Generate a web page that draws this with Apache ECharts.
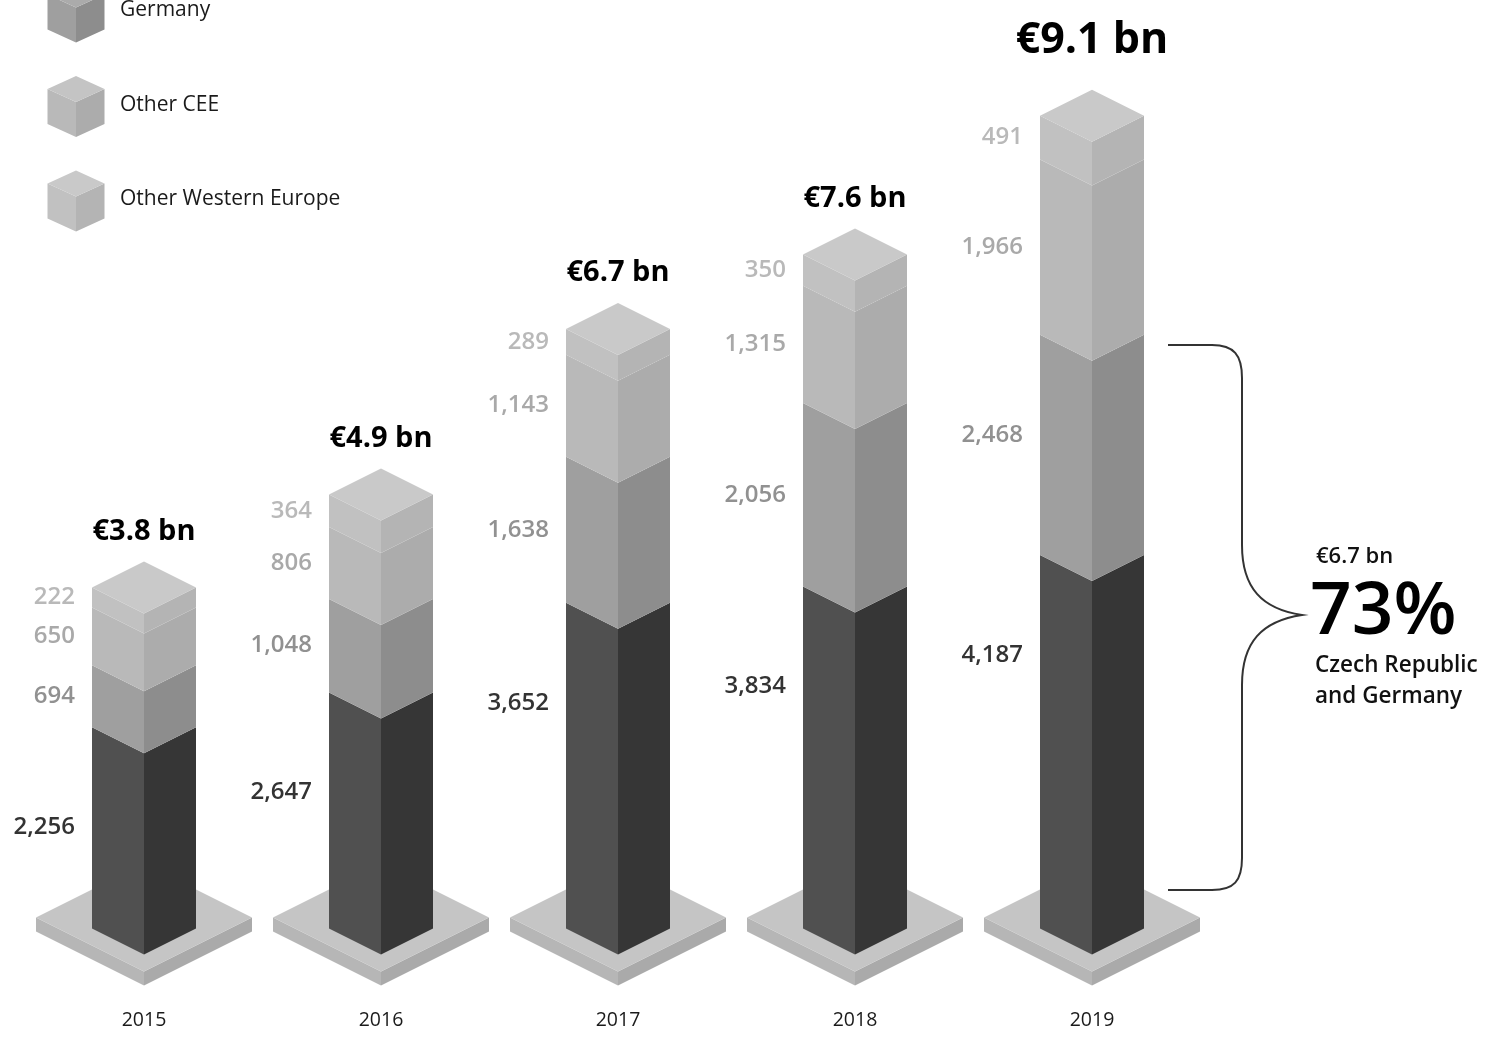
<!DOCTYPE html>
<html>
<head>
<meta charset="utf-8">
<title>Revenue by region</title>
<script src="https://cdn.jsdelivr.net/npm/echarts@6.0.0/dist/echarts.min.js"></script>
<style>
  html, body { margin: 0; padding: 0; background: #ffffff; }
  #chart { width: 1493px; height: 1046px; }
</style>
</head>
<body>
<div id="chart"></div>
<script>
// Revenue by region, EUR million
const years = ['2015', '2016', '2017', '2018', '2019'];
const regions = ['Czech Republic', 'Germany', 'Other CEE', 'Other Western Europe'];
const czechRepublic = [2256, 2647, 3652, 3834, 4187];
const germany = [694, 1048, 1638, 2056, 2468];
const otherCEE = [650, 806, 1143, 1315, 1966];
const otherWesternEurope = [222, 364, 289, 350, 491];

const seriesValues = [czechRepublic, germany, otherCEE, otherWesternEurope];

// Shading of each stack layer: left face, right face, top face, label colour
const LAYER_STYLE = [
  { left: '#505050', right: '#363636', top: '#5e5e5e', label: '#333333' },
  { left: '#9f9f9f', right: '#8d8d8d', top: '#ababab', label: '#919191' },
  { left: '#b9b9b9', right: '#acacac', top: '#c4c4c4', label: '#a9a9a9' },
  { left: '#c1c1c1', right: '#b4b4b4', top: '#c9c9c9', label: '#b9b9b9' }
];
const FONT = '"Open Sans", "Noto Sans", sans-serif';
const HALF = 52;   // half width of a column in the isometric view
const RISE = 26;   // vertical offset of the side corners

const totals = years.map((_, i) => seriesValues.reduce((s, arr) => s + arr[i], 0));
const fmtNum = v => v.toLocaleString('en-US');
const fmtBn = v => '\u20ac' + (v / 1000).toFixed(1) + ' bn';

// stacked ranges [category, start, end, value]
const stackedData = seriesValues.map((arr, s) => arr.map((v, i) => {
  let start = 0;
  for (let k = 0; k < s; k++) start += seriesValues[k][i];
  return [i, start, start + v, v];
}));

function segmentRenderer(s) {
  const st = LAYER_STYLE[s];
  const isTop = s === seriesValues.length - 1;
  return function (params, api) {
    const cat = api.value(0);
    const b = api.coord([cat, api.value(1)]);
    const t = api.coord([cat, api.value(2)]);
    const cx = b[0], yb = b[1], yt = t[1];
    const children = [
      { type: 'polygon', shape: { points: [[cx - HALF, yb - RISE], [cx, yb], [cx, yt], [cx - HALF, yt - RISE]] },
        style: { fill: st.left } },
      { type: 'polygon', shape: { points: [[cx, yb], [cx + HALF, yb - RISE], [cx + HALF, yt - RISE], [cx, yt]] },
        style: { fill: st.right } }
    ];
    if (isTop) {
      children.push({ type: 'polygon',
        shape: { points: [[cx, yt], [cx - HALF, yt - RISE], [cx, yt - 2 * RISE], [cx + HALF, yt - RISE]] },
        style: { fill: st.top } });
    }
    // value label beside the left edge of the layer
    const segTop = yt - RISE, segBot = yb - RISE;
    const ly = Math.min((segTop + segBot) / 2, segTop + 100);
    children.push({ type: 'text', x: cx - HALF - 17, y: ly,
      style: { text: fmtNum(api.value(3)), align: 'right', verticalAlign: 'middle',
        fill: st.label, fontSize: 24, fontWeight: 600, fontFamily: FONT } });
    return { type: 'group', children };
  };
}

function plateRenderer(params, api) {
  const p = api.coord([api.value(0), 0]);
  const cx = p[0], c = p[1] - 37, w = 108, h = 54, d = 14;
  return { type: 'group', children: [
    { type: 'polygon', shape: { points: [[cx - w, c], [cx, c + h], [cx, c + h + d], [cx - w, c + d]] }, style: { fill: '#b6b6b6' } },
    { type: 'polygon', shape: { points: [[cx, c + h], [cx + w, c], [cx + w, c + d], [cx, c + h + d]] }, style: { fill: '#aaaaaa' } },
    { type: 'polygon', shape: { points: [[cx - w, c], [cx, c + h], [cx + w, c], [cx, c - h]] }, style: { fill: '#c5c5c5' } }
  ] };
}

function totalRenderer(params, api) {
  const cat = api.value(0);
  const p = api.coord([cat, api.value(1)]);
  const last = cat === years.length - 1;
  const apex = p[1] - 2 * RISE;
  return { type: 'text', x: p[0], y: apex - (last ? 49 : 30),
    style: { text: fmtBn(api.value(1)), align: 'center', verticalAlign: 'middle',
      fill: '#000000', fontSize: last ? 43 : 29, fontWeight: 700, fontFamily: FONT } };
}

// curly brace grouping the two largest markets of the latest year
function braceRenderer() {
  return { type: 'path',
    shape: { pathData:
      'M1168 345 L1212 345 C1234 345 1242 355 1242 378 L1242 545 C1242 588 1262 609 1302 615 ' +
      'C1262 621 1242 642 1242 685 L1242 858 C1242 881 1234 890 1212 890 L1168 890' },
    style: { stroke: '#333333', lineWidth: 2, fill: 'none' } };
}

// legend cubes
const legendGraphics = [];
regions.forEach((name, r) => {
  const cy = 106 + (r - 2) * 94.5;
  if (cy < 0) return; // row lies above the page
  const st = LAYER_STYLE[r];
  const cx = 76, w = 28.5, h = 13, e = 35, top = cy - 30;
  legendGraphics.push(
    { type: 'polygon', shape: { points: [[cx - w, top + h], [cx, top + 2 * h], [cx, top + 2 * h + e], [cx - w, top + h + e]] }, style: { fill: st.left } },
    { type: 'polygon', shape: { points: [[cx, top + 2 * h], [cx + w, top + h], [cx + w, top + h + e], [cx, top + 2 * h + e]] }, style: { fill: st.right } },
    { type: 'polygon', shape: { points: [[cx, top], [cx - w, top + h], [cx, top + 2 * h], [cx + w, top + h]] }, style: { fill: st.top } },
    { type: 'text', x: 120, y: cy - 1, style: { text: name, fill: '#1a1a1a', fontSize: 21, fontFamily: FONT,
      verticalAlign: 'middle', align: 'left' } }
  );
});

// share of the two largest markets in the latest year
const lastIdx = years.length - 1;
const coreSum = czechRepublic[lastIdx] + germany[lastIdx];
const coreShare = Math.round(coreSum / totals[lastIdx] * 100);

const annotationGraphics = [
  { type: 'text', x: 1316, y: 557, style: { text: fmtBn(coreSum), fill: '#111111', fontSize: 22,
      fontWeight: 600, fontFamily: FONT, verticalAlign: 'middle' } },
  { type: 'text', x: 1310, y: 613, style: { text: coreShare + '%', fill: '#000000', fontSize: 73,
      fontWeight: 600, fontFamily: FONT, verticalAlign: 'middle' } },
  { type: 'text', x: 1315, y: 666, style: { text: 'Czech Republic', fill: '#111111', fontSize: 22.5,
      fontWeight: 600, fontFamily: FONT, verticalAlign: 'middle' } },
  { type: 'text', x: 1315, y: 697, style: { text: 'and Germany', fill: '#111111', fontSize: 22.5,
      fontWeight: 600, fontFamily: FONT, verticalAlign: 'middle' } }
];

const chart = echarts.init(document.getElementById('chart'), null, { renderer: 'canvas' });
chart.setOption({
  animation: false,
  backgroundColor: '#ffffff',
  grid: { left: 25.5, right: 282.5, top: 62.5, bottom: 91.5, containLabel: false },
  xAxis: {
    type: 'category', data: years,
    axisLine: { show: false }, axisTick: { show: false }, splitLine: { show: false },
    axisLabel: { color: '#1a1a1a', fontSize: 19.5, fontFamily: FONT, margin: 56 }
  },
  yAxis: { type: 'value', min: 0, max: 10000, show: false, splitLine: { show: false } },
  graphic: legendGraphics.concat(annotationGraphics),
  series: [
    { type: 'custom', name: 'plates', renderItem: plateRenderer, data: years.map((_, i) => [i]), silent: true }
  ].concat(seriesValues.map((arr, s) => ({
    type: 'custom', name: regions[s], renderItem: segmentRenderer(s),
    encode: { x: 0, y: [1, 2] }, data: stackedData[s], silent: true
  }))).concat([
    { type: 'custom', name: 'totals', renderItem: totalRenderer,
      encode: { x: 0, y: 1 }, data: totals.map((v, i) => [i, v]), silent: true },
    { type: 'custom', name: 'brace', renderItem: braceRenderer, data: [[lastIdx]], silent: true, clip: false }
  ])
});
</script>
</body>
</html>
